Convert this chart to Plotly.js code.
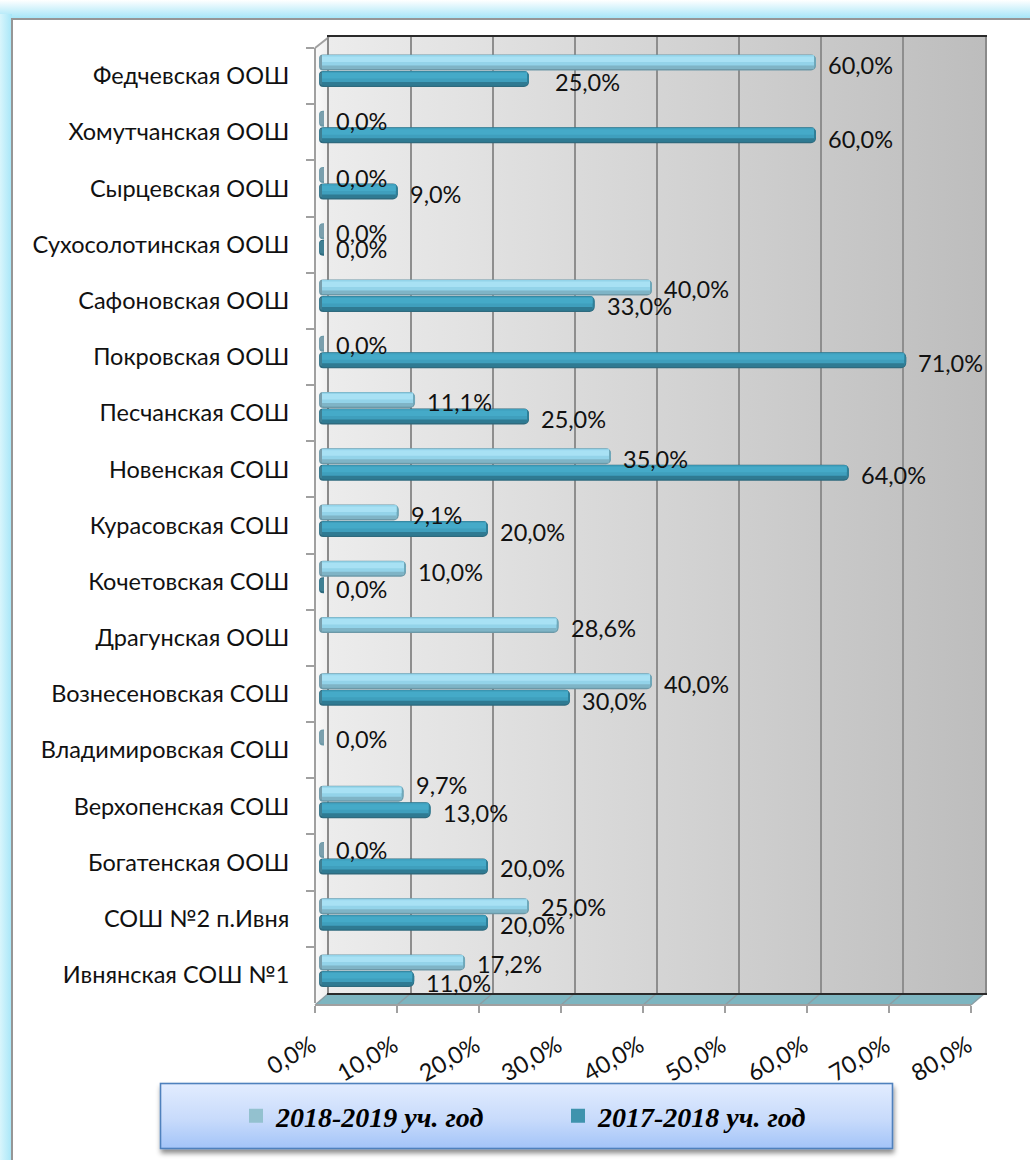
<!DOCTYPE html>
<html><head><meta charset="utf-8">
<script src="https://cdn.plot.ly/plotly-3.0.1.min.js"></script>
<style>
html,body{margin:0;padding:0;background:#fff;width:1030px;height:1160px;overflow:hidden}
#bg{position:absolute;left:0;top:0}
#chart{position:absolute;left:0;top:0;width:1030px;height:1160px}
</style></head><body>
<svg id="bg" width="1030" height="1160" xmlns="http://www.w3.org/2000/svg">
<defs>
<linearGradient id="gTop" x1="0" y1="0" x2="0" y2="1"><stop offset="0" stop-color="#fff"/><stop offset="1" stop-color="#a6e6f8"/></linearGradient>
<linearGradient id="gLeft" x1="0" y1="0" x2="1" y2="0"><stop offset="0" stop-color="#d8f5fc"/><stop offset="1" stop-color="#a6e6f8"/></linearGradient>
<linearGradient id="gWall" x1="0" y1="0" x2="1" y2="0"><stop offset="0" stop-color="#ececec"/><stop offset="1" stop-color="#bdbdbd"/></linearGradient>
<linearGradient id="gSide" x1="0" y1="0" x2="1" y2="0"><stop offset="0" stop-color="#fafafa"/><stop offset="1" stop-color="#eeeeee"/></linearGradient>
<linearGradient id="gLeg" x1="0" y1="0" x2="0" y2="1"><stop offset="0" stop-color="#e2ecff"/><stop offset="0.55" stop-color="#c8dbfb"/><stop offset="1" stop-color="#a3c4f8"/></linearGradient>
<filter id="sh" x="-5%" y="-20%" width="110%" height="150%"><feDropShadow dx="1" dy="4" stdDeviation="2.5" flood-color="#000" flood-opacity="0.45"/></filter>
</defs>
<rect x="0" y="0" width="1030" height="18" fill="url(#gTop)"/>
<rect x="0" y="14" width="12" height="1146" fill="url(#gLeft)"/>
<rect x="11" y="18" width="1019" height="2" fill="#969696"/>
<rect x="11" y="18" width="2" height="1142" fill="#969696"/>
<rect x="329" y="37" width="656" height="956" fill="url(#gWall)"/>
<path d="M315 48L329 37V993L315 1005Z" fill="url(#gSide)"/>
<path d="M315 48L329 37" stroke="#a0a0a0" stroke-width="2" fill="none"/>
<path d="M315 1005L329 993H985L971 1005Z" fill="#7db5c0"/>
<g id="floorLines"></g>
<rect x="160.5" y="1083.5" width="732" height="65" fill="url(#gLeg)" stroke="#4f81bd" stroke-width="1.6" filter="url(#sh)"/>
</svg>
<div id="chart"></div>
<script>
const schools = ["Федчевская ООШ","Хомутчанская ООШ","Сырцевская ООШ","Сухосолотинская ООШ","Сафоновская ООШ","Покровская ООШ","Песчанская СОШ","Новенская СОШ","Курасовская СОШ","Кочетовская СОШ","Драгунская ООШ","Вознесеновская СОШ","Владимировская СОШ","Верхопенская СОШ","Богатенская ООШ","СОШ №2 п.Ивня","Ивнянская СОШ №1"];
const year1819 = [60,0,0,0,40,0,11.1,35,9.1,10,28.6,40,0,9.7,0,25,17.2];
const year1718 = [25,60,9,0,33,71,25,64,20,0,null,30,null,13,20,20,11];
const xTicks = [0,10,20,30,40,50,60,70,80];

const W = 1030, H = 1160;
const xd = (a,b) => [a/W, b/W];
const yd = (a,b) => [1-b/H, 1-a/H];
const unit = 56.25;           // px per category on the bar axis
const px = p => p/unit;       // px -> category units
const scale = 8.2;            // px per percent

// floor diagonals from the front ticks to the back gridlines
(function(){
  let s = '';
  xTicks.forEach((t,i)=>{ const fx = 315+82*i; s += `<path d="M${fx} 1005L${fx+14} 993" stroke="#8a9ea4" stroke-width="1.5"/>`; });
  document.getElementById('floorLines').innerHTML = s;
})();

const dummy = (xa,ya) => ({type:'scatter',mode:'none',x:schools.map(()=>null),y:schools,xaxis:xa,yaxis:ya,showlegend:false,hoverinfo:'skip'});

function layers(values, name, top, pal){
  const out = [];
  const present = values.map(v => v==null ? null : -0.6);
  const mk = (x, xa, from, to, color) => ({
    type:'bar',orientation:'h',x:x,y:schools,xaxis:xa,yaxis:'y2',name:name,
    offset:px(top+from),width:px(to-from),showlegend:false,hoverinfo:'skip',
    marker:{color:color,line:{width:0}}
  });
  // rounded start of the tube (also all that shows for a zero value)
  const stub = mk(present,'x3',0,16,pal.edge); stub.marker.cornerradius = 4;
  const stubIn = mk(present,'x3',1,14,pal.stub); stubIn.marker.cornerradius = 4;
  out.push(stub, stubIn);
  const outer = mk(values,'x3',0,16,pal.edge); outer.marker.cornerradius = 5;
  out.push(outer);
  const cap = mk(values,'x3',0.5,14.5,pal.cap); cap.marker.cornerradius = 5;
  out.push(cap);
  out.push(mk(values,'x4',0.5,13,pal.main));
  out.push(mk(values,'x4',2,7.5,pal.high));
  out.push(mk(values,'x4',11,14.5,pal.low));
  return out;
}

const palLight = {edge:'#6c98a7',stub:'#7a9fad',cap:'#6fa8ba',main:'#93d3e9',high:'#a8e1f4',low:'#7fb4c6'};
const palTeal  = {edge:'#2e6a7e',stub:'#3f7f93',cap:'#2f7f98',main:'#3f9fbd',high:'#45aac8',low:'#2f7a92'};

const traces = [
  {type:'bar',orientation:'h',x:[null],y:[schools[0]],xaxis:'x3',yaxis:'y2',name:'<b><i>2018-2019 уч. год</i></b>',marker:{color:'#93c1cf',line:{color:'#93c1cf',width:2}},hoverinfo:'skip'},
  {type:'bar',orientation:'h',x:[null],y:[schools[0]],xaxis:'x3',yaxis:'y2',name:'<b><i>2017-2018 уч. год</i></b>',marker:{color:'#3f93ad',line:{color:'#3f93ad',width:2}},hoverinfo:'skip'},
  dummy('x','y'), dummy('x2','y3'), dummy('x4','y2'),
  ...layers(year1819,'2018-2019 уч. год',-16,palLight),
  ...layers(year1718,'2017-2018 уч. год',0.5,palTeal)
];

// data labels
const fmt = v => v.toFixed(1).replace('.',',')+'%';
const fontName = 'Lato, Carlito, sans-serif';
const labelFont = {family:fontName,size:23.5,color:'#111'};
const dy1819 = [-5.5,-5.5,-5,-6,-6.5,-6.5,-6,-5,-5.5,-5,-5,-5,-6.5,-17,-8,-7,-6.5];
const dy1718 = [11.5,12,11,10,10.5,11,11,11,11.5,12,0,12,0,11,10,11,12.5];
const dx1718 = {0:26};
const annotations = [];
schools.forEach((s,i)=>{
  [[year1819,dy1819,12],[year1718,dy1718,12]].forEach(([vals,dys,dx],k)=>{
    const v = vals[i];
    if(v==null) return;
    annotations.push({xref:'x3',yref:'y2',x:v,y:s,text:fmt(v),showarrow:false,xanchor:'left',yanchor:'middle',
      xshift:(k===1 && dx1718[i]!==undefined ? dx1718[i] : dx)-1, yshift:-dys[i], font:labelFont, borderpad:0});
  });
});

const cat = {type:'category',categoryorder:'array',categoryarray:schools,range:[16.5,-0.5]};
const layout = {
  width:W,height:H,margin:{l:0,r:0,t:0,b:0,pad:0},
  paper_bgcolor:'rgba(0,0,0,0)',plot_bgcolor:'rgba(0,0,0,0)',
  separators:',.',barmode:'overlay',hovermode:false,
  font:{family:fontName,size:23.5,color:'#111'},
  xaxis:{domain:xd(315,971),range:[0,80],anchor:'free',position:1-1005/H,tickmode:'array',tickvals:xTicks,ticktext:xTicks.map(fmt),
    tickangle:-30,ticks:'outside',ticklen:7,tickwidth:2,tickcolor:'#a0a0a0',showline:true,linecolor:'#a0a0a0',linewidth:2,showgrid:false,zeroline:false,ticklabelstandoff:10,ticklabelshift:-3,fixedrange:true},
  yaxis:Object.assign({},cat,{domain:yd(48,1003),anchor:'free',position:315/W,ticks:'outside',ticklen:8,tickwidth:2,tickcolor:'#a0a0a0',tickson:'boundaries',
    showline:true,linecolor:'#a0a0a0',linewidth:2,showgrid:false,zeroline:false,ticklabelstandoff:20,ticklabelshift:-1.5,fixedrange:true}),
  xaxis2:{domain:xd(329,985),range:[0,80],anchor:'y3',tickvals:xTicks,showticklabels:false,ticks:'',showgrid:true,gridcolor:'#8e8e8e',gridwidth:2,zeroline:false,
    showline:true,mirror:true,linecolor:'#2a2a2a',linewidth:2,fixedrange:true},
  yaxis3:Object.assign({},cat,{domain:yd(37,993),anchor:'x2',showticklabels:false,ticks:'',showgrid:false,zeroline:false,showline:true,mirror:true,linecolor:'#8a8a8a',linewidth:2,fixedrange:true}),
  xaxis3:{domain:xd(315,980),range:[(315-324)/scale,80],anchor:'y2',visible:false,fixedrange:true},
  xaxis4:{domain:xd(315,978),range:[(315-322)/scale,80],anchor:'y2',visible:false,fixedrange:true},
  yaxis2:Object.assign({},cat,{domain:yd(42.375,998.625),anchor:'x3',visible:false,fixedrange:true}),
  showlegend:true,
  legend:{orientation:'h',x:236/W,xanchor:'left',y:1-1116/H,yanchor:'middle',bgcolor:'rgba(0,0,0,0)',borderwidth:0,
    font:{family:'Liberation Serif, serif',size:28,color:'#000'},traceorder:'normal',entrywidth:277,entrywidthmode:'pixels',itemclick:false,itemdoubleclick:false},
  annotations:annotations
};
Plotly.newPlot('chart',traces,layout,{displayModeBar:false,staticPlot:true});
</script>
</body></html>
